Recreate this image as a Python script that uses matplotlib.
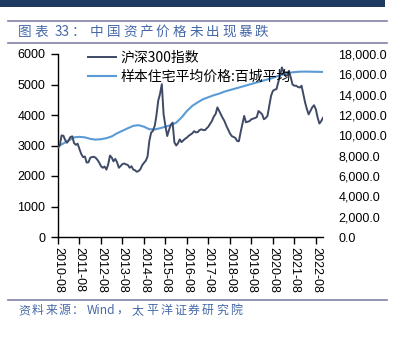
import matplotlib
matplotlib.use("Agg")
import matplotlib.pyplot as plt
import matplotlib.dates as mdates
from matplotlib.lines import Line2D
from matplotlib.patches import Rectangle
import numpy as np
import pandas as pd

# ---------------- data ----------------
csi_start = "2010-08-01"
csi300 = [2930, 3000, 3330, 3320, 3180, 3090, 3180, 3280, 3300, 3080,
          3020, 3060, 2880, 2720, 2620, 2640, 2440, 2450, 2600, 2620,
          2630, 2600, 2530, 2440, 2320, 2270, 2310, 2210, 2380, 2670,
          2600, 2480, 2560, 2450, 2270, 2330, 2390, 2410, 2380, 2360,
          2270, 2320, 2210, 2190, 2140, 2160, 2220, 2350, 2430, 2500,
          2640, 3150, 3420, 3480, 3650, 3980, 4470, 4690, 5010, 4030,
          3640, 3310, 3510, 3680, 3750, 3100, 3000, 3070, 3200, 3110,
          3170, 3220, 3260, 3320, 3360, 3400, 3470, 3430, 3440, 3500,
          3530, 3510, 3500, 3560, 3620, 3720, 3810, 3950, 4030, 4250,
          4130, 4020, 3900, 3800, 3650, 3530, 3400, 3310, 3280, 3250,
          3150, 3140, 3450, 3700, 3970, 3760, 3780, 3800, 3860, 3880,
          3900, 3930, 4130, 4080, 4020, 3860, 3900, 3970, 4300, 4630,
          4790, 4830, 4850, 5070, 5290, 5560, 5400, 5300, 5290, 5450,
          5230, 5000, 4960, 4960, 4920, 4900, 4960, 4680, 4400, 4200,
          4020, 4130, 4250, 4320, 4190, 3910, 3720, 3800, 3910]

house_months = ["2010-08", "2010-11", "2011-02", "2011-05", "2011-08", "2011-11",
                "2012-02", "2012-05", "2012-08", "2012-11", "2013-02", "2013-05",
                "2013-08", "2013-11", "2014-02", "2014-05", "2014-08", "2014-11",
                "2015-02", "2015-05", "2015-08", "2015-11", "2016-02", "2016-05",
                "2016-08", "2016-11", "2017-02", "2017-05", "2017-08", "2017-11",
                "2018-02", "2018-05", "2018-08", "2018-11", "2019-02", "2019-05",
                "2019-08", "2019-11", "2020-02", "2020-05", "2020-08", "2020-11",
                "2021-02", "2021-05", "2021-08", "2021-11", "2022-02", "2022-05",
                "2022-08", "2022-11", "2022-12"]
house_price = [8930, 9200, 9500, 9800, 9850, 9800, 9650, 9580, 9620, 9720,
               9900, 10200, 10450, 10700, 10930, 11000, 10850, 10600, 10580, 10700,
               10850, 11000, 11250, 11750, 12400, 12900, 13250, 13550, 13750, 13950,
               14100, 14300, 14450, 14600, 14750, 14900, 15050, 15200, 15350, 15500,
               15650, 15850, 16020, 16150, 16220, 16260, 16270, 16260, 16250, 16240,
               16240]

label_csi = "沪深300指数"
label_house = "样本住宅平均价格:百城平均"
title_text = "图表 33：中国资产价格未出现暴跌"
source_text = "资料来源：Wind，太平洋证券研究院"
left_ticks = [0, 1000, 2000, 3000, 4000, 5000, 6000]
right_ticks = [0, 2000, 4000, 6000, 8000, 10000, 12000, 14000, 16000, 18000]
xtick_years = list(range(2010, 2023))

# ---------------- figure ----------------
W, H = 395, 337
fig = plt.figure(figsize=(W / 100, H / 100), dpi=100)
fig.patch.set_facecolor("white")

CJK = ["Noto Sans CJK SC", "DejaVu Sans"]
NUM = ["Liberation Sans", "DejaVu Sans"]

def fx(px):
    return px / W

def fy(py):
    return 1 - py / H

# decorative bars / lines
fig.add_artist(Rectangle((0, fy(7)), fx(385), 7 / H, transform=fig.transFigure,
                         facecolor="#1f3a60", edgecolor="none"))
for yy in (20.5, 42.5, 300):
    fig.add_artist(Line2D([fx(8), fx(387)], [fy(yy), fy(yy)], transform=fig.transFigure,
                          color="#8080a8", lw=1.2))

title_color = "#4569a8"
# spaced title
def spaced(pieces, y, size, color):
    for txt, x0, pitch in pieces:
        if pitch is None:
            fig.text(fx(x0), fy(y), txt, fontsize=size, color=color, family=CJK,
                     ha="left", va="center")
        else:
            for i, ch in enumerate(txt):
                fig.text(fx(x0 + i * pitch), fy(y), ch, fontsize=size, color=color,
                         family=CJK, ha="left", va="center")

t_parts = title_text.split(" ")
spaced([(t_parts[0], 18, 17.0), ("33", 55, None), ("：", 72, None),
        (t_parts[1][3:], 90, 16.5)], 32, 9.8, title_color)

s_a = source_text.split("Wind")
spaced([(s_a[0], 18, 13.6), ("Wind", 87, None), (s_a[1][0], 116, None),
        (s_a[1][1:], 132, 14.0)], 310.5, 8.6, title_color)

# ---------------- axes ----------------
ax = fig.add_axes([fx(58), fy(237), fx(323) - fx(58), (237 - 54) / H])
ax2 = ax.twinx()

csi_dates = pd.date_range(csi_start, periods=len(csi300), freq="MS")
house_dates = pd.to_datetime([m + "-01" for m in house_months])

l1, = ax.plot(csi_dates, csi300, color="#3e4a66", lw=1.4, label=label_csi, zorder=3)
l2, = ax2.plot(house_dates, house_price, color="#5b9bd5", lw=1.5, label=label_house, zorder=2)

ax.set_xlim(csi_dates[0], csi_dates[-1])
ax.set_ylim(0, 6000)
ax2.set_ylim(0, 18000)

ax.set_yticks(left_ticks)
ax.set_yticklabels([str(v) for v in left_ticks], family=NUM, fontsize=9)
ax2.set_yticks(right_ticks)
ax2.set_yticklabels([f"{v:,.1f}" for v in right_ticks], family=NUM, fontsize=9)

xt = pd.to_datetime([f"{y}-08-01" for y in xtick_years])
ax.set_xticks(xt)
ax.set_xticklabels([f"{y}-08" for y in xtick_years], rotation=270, family=NUM, fontsize=9)

for a in (ax, ax2):
    for s in ("top", "right"):
        a.spines[s].set_visible(False)
ax2.spines["left"].set_visible(False)
ax2.spines["bottom"].set_visible(False)
ax.spines["left"].set_color("black")
ax.spines["bottom"].set_color("black")
ax.spines["left"].set_linewidth(1.0)
ax.spines["bottom"].set_linewidth(1.0)

ax.tick_params(axis="y", direction="out", length=5, width=1, pad=4, colors="black")
ax.tick_params(axis="x", direction="out", length=5, width=1, pad=2, colors="black")
ax2.tick_params(axis="y", length=0, pad=11, colors="black")

leg = ax.legend([l1, l2], [label_csi, label_house], loc="upper left",
                bbox_to_anchor=(fx(88), fy(51)), bbox_transform=fig.transFigure,
                frameon=False, borderpad=0, borderaxespad=0, handlelength=2.0,
                handletextpad=0.35, labelspacing=0.38,
                prop={"family": CJK, "size": 10})
leg.set_zorder(10)
ax.set_zorder(ax2.get_zorder() + 1)
ax.patch.set_visible(False)

fig.savefig("out.png", dpi=100, facecolor="white")
